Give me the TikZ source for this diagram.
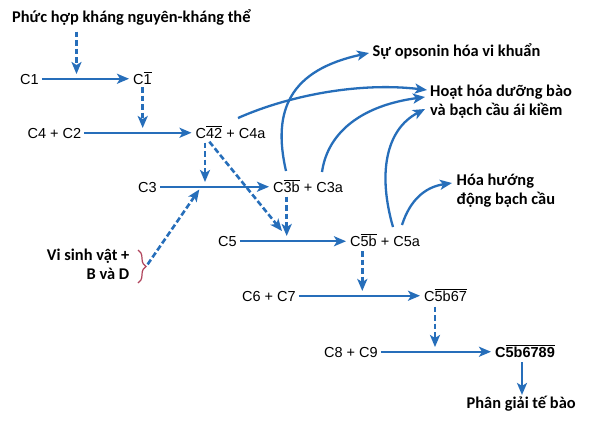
\documentclass[tikz,border=0pt]{standalone}
\usepackage{fontspec}
\setmainfont{Liberation Sans}
\newfontfamily\vnfont{Carlito}
\usetikzlibrary{arrows.meta,decorations.pathreplacing,calc}
\definecolor{cblue}{RGB}{38,110,186}
\definecolor{bracec}{RGB}{176,68,92}
\begin{document}
\begin{tikzpicture}[x=1pt,y=-1pt,
  lab/.style={anchor=base west, inner sep=0pt, text height=10.5pt, text depth=0pt, font=\fontsize{14.5}{17}\selectfont},
  blab/.style={inner sep=0pt, font=\vnfont\bfseries\fontsize{16.4}{18.5}\selectfont, align=left},
  rxn/.style={draw=cblue, line width=2.3pt, -{Stealth[length=12pt,width=10pt,inset=3pt]}, shorten <=3pt, shorten >=4pt},
  dsh/.style={rxn, line width=2.6pt, dash pattern=on 5.7pt off 2.8pt, shorten <=4.5pt, shorten >=5pt},
  curv/.style={draw=cblue, line width=2.3pt, -{Stealth[length=12pt,width=10pt,inset=3pt]}},
]
\fill[white] (0,0) rectangle (590,421);
\useasboundingbox (0,0) rectangle (590,421);

% texts
\node[blab, anchor=base west] (pk) at (12,22.5) {Phức hợp kháng nguyên-kháng thể};
\node[lab] (c1) at (20,84) {C1};
\node[lab] (c1b) at (133,84) {C$\overline{\hbox{1}}$};
\node[lab] (c4c2) at (27.5,138) {C4 + C2};
\node[lab] (c42) at (195.5,138) {C$\overline{\hbox{42}}$ + C4a};
\node[lab] (c3) at (138,192) {C3};
\node[lab] (c3b) at (273,192) {C$\overline{\hbox{3b}}$ + C3a};
\node[lab] (c5) at (218,246.5) {C5};
\node[lab] (c5b) at (350,246.5) {C$\overline{\hbox{5b}}$ + C5a};
\node[lab] (c6c7) at (242,301) {C6 + C7};
\node[lab] (c5b67) at (424,301) {C$\overline{\hbox{5b67}}$};
\node[lab] (c8c9) at (324,357) {C8 + C9};
\node[lab, font=\bfseries\fontsize{14.5}{17}\selectfont] (c5b6789) at (495,357) {C$\overline{\hbox{5b6789}}$};
\node[blab, anchor=base west] (lysis) at (466.5,408) {Phân giải tế bào};
\node[blab, anchor=base west] (ops) at (372.5,56.5) {Sự opsonin hóa vi khuẩn};
\node[blab, anchor=base west] (hoat) at (430,115) {Hoạt hóa dưỡng bào\\và bạch cầu ái kiềm};
\node[blab, anchor=base west] (hoa) at (456.5,204) {Hóa hướng\\động bạch cầu};
\node[blab, anchor=base east, align=right] (vsv) at (129.5,279) {Vi sinh vật +\\B và D};

% reaction arrows
\draw[rxn] (c1) -- (c1b);
\draw[rxn] (c4c2) -- (c42);
\draw[rxn] (c3) -- (c3b);
\draw[rxn] (c5) -- (c5b);
\draw[rxn] (c6c7) -- (c5b67);
\draw[rxn] (c8c9) -- (c5b6789);

% junctions
\coordinate (j1) at (76.5,79);
\coordinate (j2) at (142.7,133);
\coordinate (j3) at (205,187);
\coordinate (j5) at (286.7,241);
\coordinate (j7) at (362.3,296);
\coordinate (j8) at (435,352);
\coordinate (d4) at (282,231);
\coordinate (bt) at (146.5,266);
\coordinate (j6) at (201,187);
\coordinate (jl) at (522,380);

\draw[dsh, shorten <=6pt] (pk.south -| j1) -- (j1);
\draw[dsh, shorten <=3pt] (c1b.south -| j2) -- (j2);
\draw[dsh] (c42.south -| j3) -- (j3);
\draw[dsh, shorten >=0pt] ($(c42.south west)+(11,0)$) -- (d4);
\draw[dsh] (c3b.south -| j5) -- (j5);
\draw[dsh] (c5b.south -| j7) -- (j7);
\draw[dsh, shorten <=5.5pt] (c5b67.south -| j8) -- (j8);
\draw[dsh, shorten <=2pt, shorten >=3pt] (bt) -- (j6);
\draw[rxn, shorten <=5pt, shorten >=0.5pt] (c5b6789.south -| jl) -- (lysis.north -| jl);

% brace
\draw[draw=bracec, line width=1.2pt, decorate, decoration={brace, amplitude=8pt}] (138,250) -- (138,283);

% curves
\coordinate (o1) at (286,171);  \coordinate (o2) at (369,53);
\coordinate (a1) at (238,118);  \coordinate (a2) at (427,90);
\coordinate (b1) at (322,172);  \coordinate (b2) at (425,97);
\coordinate (e1) at (393,227);  \coordinate (e2) at (425,109);
\coordinate (f1) at (402,225);  \coordinate (f2) at (452,183);
\draw[curv] (o1) .. controls (272,110) and (290,70) .. (o2);
\draw[curv] (a1) .. controls (290,95) and (360,82) .. (a2);
\draw[curv] (b1) .. controls (328,130) and (365,105) .. (b2);
\draw[curv] (e1) .. controls (378,175) and (385,130) .. (e2);
\draw[curv] (f1) .. controls (410,200) and (425,187) .. (f2);
\end{tikzpicture}
\end{document}
